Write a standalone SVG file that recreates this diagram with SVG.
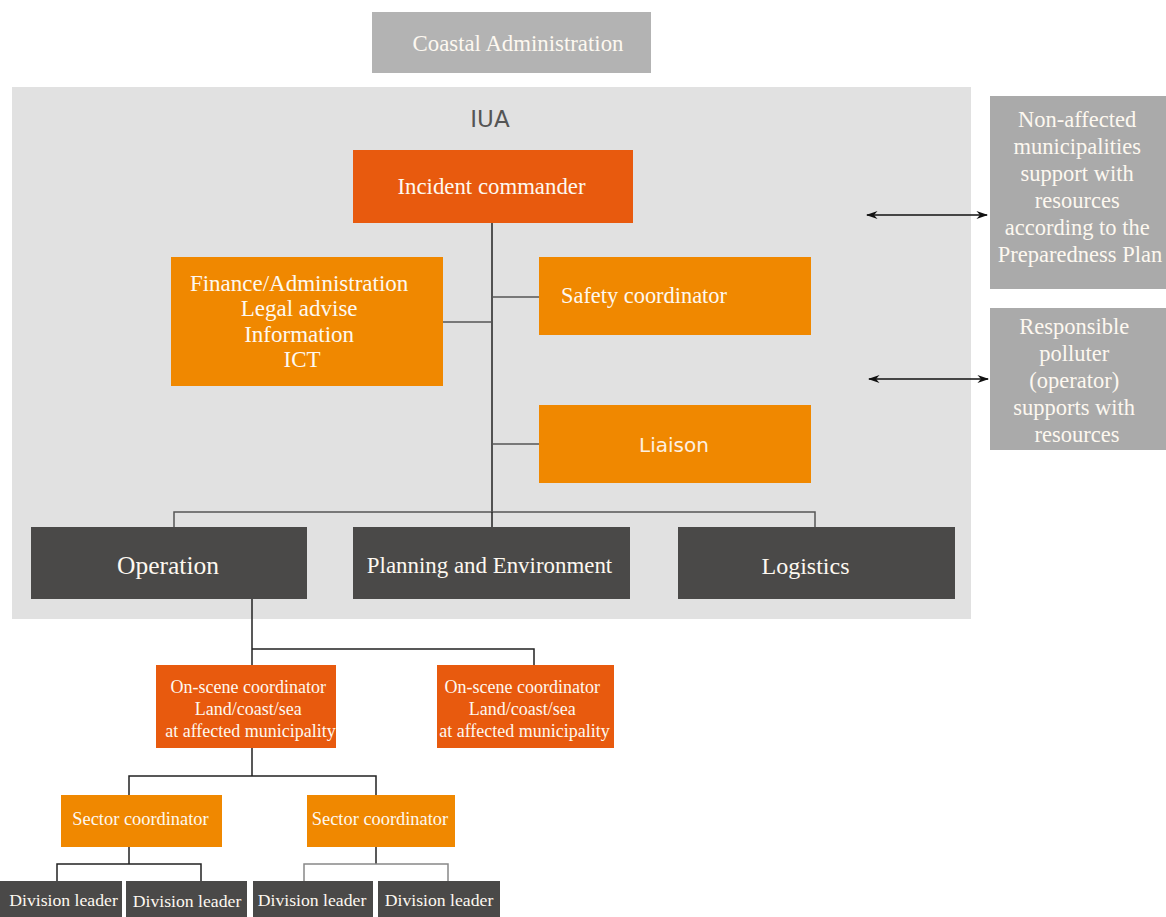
<svg xmlns="http://www.w3.org/2000/svg" width="1166" height="917" viewBox="0 0 1166 917">
  <style>
    .serif { font-family: "Liberation Serif", "Times New Roman", serif; fill: #fdf8f0; text-anchor: middle; }
    .sans { font-family: "DejaVu Sans", "Liberation Sans", sans-serif; text-anchor: middle; }
    .red { fill: #e85a0e; }
    .orange { fill: #f08800; }
    .dark { fill: #4a4948; }
    .grey { fill: #b3b3b3; }
    .side { fill: #aaaaaa; }
    .wire { fill: none; stroke: #222; stroke-width: 1.5; }
    .wire2 { fill: none; stroke: #555; stroke-width: 1.5; }
  </style>
  <defs>
    <marker id="ah" viewBox="0 0 10 10" refX="9" refY="5" markerWidth="9" markerHeight="9" orient="auto-start-reverse">
      <path d="M0,1.5 L10,5 L0,8.5 L3,5 Z" fill="#111"/>
    </marker>
  </defs>

  <rect width="1166" height="917" fill="#ffffff"/>

  <g id="coastal-admin">
    <rect class="grey" x="372" y="12" width="279" height="61"/>
    <text class="serif" x="518" y="51" font-size="22.8">Coastal Administration</text>
  </g>

  <g id="iua">
    <rect x="12" y="87" width="959" height="532" fill="#e1e1e1"/>
    <text class="sans" x="490" y="127" font-size="23" fill="#555555">IUA</text>
  </g>

  <g id="connectors">
    <path class="wire" d="M492,223 V512"/>
    <path class="wire2" d="M492,297 H539"/>
    <path class="wire2" d="M443,322 H492"/>
    <path class="wire2" d="M492,444 H539"/>
    <path class="wire2" d="M174,527 V512 H815 V527"/>
    <path class="wire" d="M492,512 V527"/>
    <path class="wire" d="M252,599 V665"/>
    <path class="wire" d="M252,649 H534 V665"/>
    <path class="wire" d="M252,748 V776 M129,795 V776 H376 V795"/>
    <path class="wire" d="M129,847 V864 M57,881 V864 H201 V881"/>
    <path class="wire" d="M376,847 V864"/>
    <path d="M304,881 V864 H448 V881" fill="none" stroke="#888" stroke-width="1.5"/>
    <path d="M867,215 H987" stroke="#111" stroke-width="1.3" marker-start="url(#ah)" marker-end="url(#ah)"/>
    <path d="M869,379 H988" stroke="#111" stroke-width="1.3" marker-start="url(#ah)" marker-end="url(#ah)"/>
  </g>

  <g id="incident-commander">
    <rect class="red" x="353" y="150" width="280" height="73"/>
    <text class="serif" x="491.5" y="194" font-size="22.8">Incident commander</text>
  </g>

  <g id="finance">
    <rect class="orange" x="171" y="257" width="272" height="129"/>
    <text class="serif" font-size="23">
      <tspan x="302" y="291">Finance/Administration</tspan>
      <tspan x="302" y="316">Legal advise</tspan>
      <tspan x="302" y="342">Information</tspan>
      <tspan x="302" y="367">ICT</tspan>
    </text>
  </g>

  <g id="safety">
    <rect class="orange" x="539" y="257" width="272" height="78"/>
    <text class="serif" x="644" y="303" font-size="22.4">Safety coordinator</text>
  </g>

  <g id="liaison">
    <rect class="orange" x="539" y="405" width="272" height="78"/>
    <text class="sans" x="674" y="452" font-size="20" fill="#fdf0e0">Liaison</text>
  </g>

  <g id="operation">
    <rect class="dark" x="31" y="527" width="276" height="72"/>
    <text class="serif" x="168" y="574" font-size="25.5">Operation</text>
  </g>

  <g id="planning">
    <rect class="dark" x="353" y="527" width="277" height="72"/>
    <text class="serif" x="489.5" y="573" font-size="22.9">Planning and Environment</text>
  </g>

  <g id="logistics">
    <rect class="dark" x="678" y="527" width="277" height="72"/>
    <text class="serif" x="805.5" y="574" font-size="24">Logistics</text>
  </g>

  <g id="osc-1">
    <rect class="red" x="156" y="665" width="180" height="83"/>
    <text class="serif" font-size="18">
      <tspan x="250.5" y="693">On-scene coordinator</tspan>
      <tspan x="250.5" y="715">Land/coast/sea</tspan>
      <tspan x="250.5" y="737">at affected municipality</tspan>
    </text>
  </g>

  <g id="osc-2">
    <rect class="red" x="437" y="665" width="177" height="83"/>
    <text class="serif" font-size="18">
      <tspan x="524.5" y="693">On-scene coordinator</tspan>
      <tspan x="524.5" y="715">Land/coast/sea</tspan>
      <tspan x="524.5" y="737">at affected municipality</tspan>
    </text>
  </g>

  <g id="sector-1">
    <rect class="orange" x="61" y="795" width="161" height="52"/>
    <text class="serif" x="140.5" y="825" font-size="18.4">Sector coordinator</text>
  </g>

  <g id="sector-2">
    <rect class="orange" x="307" y="795" width="148" height="52"/>
    <text class="serif" x="380" y="825" font-size="18.4">Sector coordinator</text>
  </g>

  <g id="division-1">
    <rect class="dark" x="0" y="881" width="122" height="36"/>
    <text class="serif" x="63.5" y="906" font-size="17.7">Division leader</text>
  </g>
  <g id="division-2">
    <rect class="dark" x="126" y="881" width="121" height="36"/>
    <text class="serif" x="187" y="907" font-size="17.7">Division leader</text>
  </g>
  <g id="division-3">
    <rect class="dark" x="253" y="881" width="120" height="36"/>
    <text class="serif" x="312" y="906" font-size="17.7">Division leader</text>
  </g>
  <g id="division-4">
    <rect class="dark" x="378" y="881" width="122" height="36"/>
    <text class="serif" x="439" y="906" font-size="17.7">Division leader</text>
  </g>

  <g id="non-affected">
    <rect class="side" x="990" y="96" width="176" height="193"/>
    <text class="serif" font-size="22.5">
      <tspan x="1080" y="127">Non-affected</tspan>
      <tspan x="1080" y="154">municipalities</tspan>
      <tspan x="1080" y="181">support with</tspan>
      <tspan x="1080" y="208">resources</tspan>
      <tspan x="1080" y="235">according to the</tspan>
      <tspan x="1080" y="262">Preparedness Plan</tspan>
    </text>
  </g>

  <g id="polluter">
    <rect class="side" x="990" y="308" width="176" height="142"/>
    <text class="serif" font-size="22.5">
      <tspan x="1077" y="334">Responsible</tspan>
      <tspan x="1077" y="361">polluter</tspan>
      <tspan x="1077" y="388">(operator)</tspan>
      <tspan x="1077" y="415">supports with</tspan>
      <tspan x="1077" y="442">resources</tspan>
    </text>
  </g>
</svg>
